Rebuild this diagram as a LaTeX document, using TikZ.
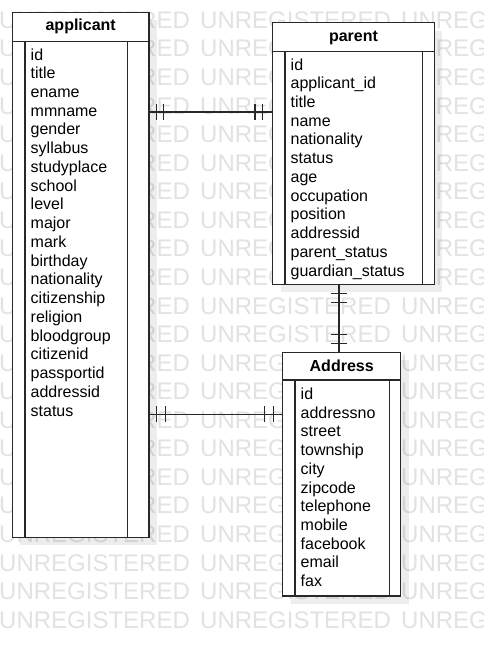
\documentclass[tikz,border=0pt]{standalone}
\usepackage{fontspec}
\setmainfont{Liberation Sans}
\usetikzlibrary{calc}
\definecolor{wmgray}{RGB}{226,226,226}
\definecolor{linec}{RGB}{40,40,40}
\begin{document}
\begin{tikzpicture}[x=1pt,y=-1pt,
  entity/.style={draw=linec,line width=1.4pt,fill=white,rectangle,inner sep=0,outer sep=0,anchor=north west},
  shadowbox/.style={fill=black,fill opacity=0.07,inner sep=0,outer sep=0,anchor=north west,rectangle},
  attr/.style={anchor=base west,inner sep=0,font=\fontsize{16}{19}\selectfont,text=black},
  head/.style={anchor=base,inner sep=0,font=\fontsize{16}{19}\selectfont\bfseries,text=black},
  wm/.style={anchor=base west,inner sep=0,font=\fontsize{24}{28}\selectfont,text=wmgray},
  inner/.style={draw=linec,line width=1.4pt},
  conn/.style={draw=linec,line width=1.3pt},
]
\useasboundingbox (0,0) rectangle (483,646);
\clip (0,0) rectangle (483,646);
\fill[white] (0,0) rectangle (483,646);
% watermark
\foreach \r in {0,...,21}{
  \foreach \c in {0,1,2}{
    \node[wm] (wm-\r-\c) at (-1+201*\c, 28.3+28.57*\r) {UNREGISTERED};
  }
}
% shadows
\node[shadowbox,minimum width=136.7pt,minimum height=525pt] (app-sh) at (20.3,20.3) {};
\node[shadowbox,minimum width=161.6pt,minimum height=261.6pt] (par-sh) at (280.7,30.7) {};
\node[shadowbox,minimum width=118pt,minimum height=243.7pt] (adr-sh) at (290.7,360.3) {};
% entities
\node[entity,minimum width=136.7pt,minimum height=525pt] (app) at (12.3,12.3) {};
\node[entity,minimum width=161.6pt,minimum height=261.6pt] (par) at (272.7,22.7) {};
\node[entity,minimum width=118pt,minimum height=243.7pt] (adr) at (282.7,352.3) {};
% header separators and inner columns
\draw[inner] (12.3,41.7) -- (149,41.7);
\draw[inner] (25,41.7) -- (25,537.3);
\draw[inner] (127.7,41.7) -- (127.7,537.3);
\draw[inner] (272.7,51.7) -- (434.3,51.7);
\draw[inner] (285,51.7) -- (285,284.3);
\draw[inner] (422.7,51.7) -- (422.7,284.3);
\draw[inner] (282.7,380) -- (400.7,380);
\draw[inner] (295,380) -- (295,596);
\draw[inner] (389.3,380) -- (389.3,596);
% headers
\node[head] (app-h) at (80.7,30.7) {applicant};
\node[head] (par-h) at (353.5,41.7) {parent};
\node[head] (adr-h) at (341.7,371) {Address};
% attributes
\foreach \t [count=\i] in {id,title,ename,mmname,gender,syllabus,studyplace,school,level,major,mark,birthday,nationality,citizenship,religion,bloodgroup,citizenid,passportid,addressid,status}{
  \node[attr] (app-\i) at (30.5,60+18.74*\i-18.74) {\t};
}
\foreach \t [count=\i] in {id,applicant\_id,title,name,nationality,status,age,occupation,position,addressid,parent\_status,guardian\_status}{
  \node[attr] (par-\i) at (290.5,70+18.74*\i-18.74) {\t};
}
\foreach \t [count=\i] in {id,addressno,street,township,city,zipcode,telephone,mobile,facebook,email,fax}{
  \node[attr] (adr-\i) at (300.5,399.3+18.74*\i-18.74) {\t};
}
% connectors
\coordinate (yAP) at (0,112);
\coordinate (yAA) at (0,414.3);
\coordinate (xPA) at (339,0);
\draw[conn] (app.east |- yAP) -- (par.west |- yAP);
\draw[conn] ($(app.east |- yAP)+(7.7,-8)$) -- ++(0,16);
\draw[conn] ($(app.east |- yAP)+(14.3,-8)$) -- ++(0,16);
\draw[conn] ($(par.west |- yAP)+(-17.7,-8)$) -- ++(0,16);
\draw[conn] ($(par.west |- yAP)+(-10,-8)$) -- ++(0,16);
\draw[conn] (app.east |- yAA) -- (adr.west |- yAA);
\draw[conn] ($(app.east |- yAA)+(7.7,-8)$) -- ++(0,16);
\draw[conn] ($(app.east |- yAA)+(16.7,-8)$) -- ++(0,16);
\draw[conn] ($(adr.west |- yAA)+(-18.4,-8)$) -- ++(0,16);
\draw[conn] ($(adr.west |- yAA)+(-9.4,-8)$) -- ++(0,16);
\draw[conn] (par.south -| xPA) -- (adr.north -| xPA);
\draw[conn] ($(par.south -| xPA)+(-8,9)$) -- ++(16,0);
\draw[conn] ($(par.south -| xPA)+(-8,18)$) -- ++(16,0);
\draw[conn] ($(adr.north -| xPA)+(-8,-18)$) -- ++(16,0);
\draw[conn] ($(adr.north -| xPA)+(-8,-9)$) -- ++(16,0);
\end{tikzpicture}
\end{document}
